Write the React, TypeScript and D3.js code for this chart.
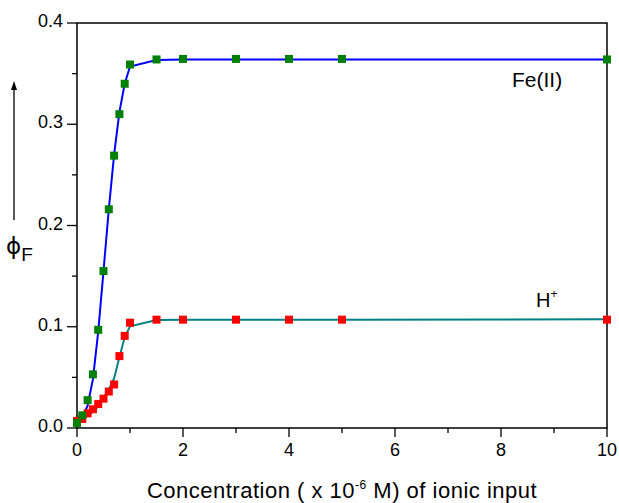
import { useEffect, useRef } from "react";
import * as d3 from "d3";

// concentrations (x 10^-6 M)
const conc = [0, 0.1, 0.2, 0.3, 0.4, 0.5, 0.6, 0.7, 0.8, 0.9, 1.0, 1.5, 2, 3, 4, 5, 10];
// measured phi_F points
const feData = [0.005, 0.0125, 0.0275, 0.053, 0.097, 0.155, 0.216, 0.269, 0.31, 0.34, 0.359, 0.364, 0.3645, 0.3645, 0.3645, 0.3645, 0.364];
const hData = [0.007, 0.009, 0.0145, 0.0185, 0.0237, 0.029, 0.036, 0.043, 0.071, 0.091, 0.104, 0.107, 0.107, 0.107, 0.107, 0.107, 0.107];
// fitted curves
const feFit = [0.004, 0.01, 0.022, 0.048, 0.095, 0.155, 0.216, 0.27, 0.312, 0.34, 0.357, 0.3635, 0.364, 0.364, 0.364, 0.364, 0.364];
const hFit = [0.007, 0.009, 0.012, 0.016, 0.021, 0.03, 0.038, 0.049, 0.07, 0.0896, 0.1005, 0.1066, 0.107, 0.107, 0.107, 0.107, 0.1074];

const yMajor = [0, 0.1, 0.2, 0.3, 0.4];
const yMinor = [0.05, 0.15, 0.25, 0.35];
const xMajor = [0, 2, 4, 6, 8, 10];
const xMinor = [1, 3, 5, 7, 9];

const FONT = "'Liberation Sans', Arial, sans-serif";

export default function App() {
  const svgRef = useRef<SVGSVGElement>(null);

  useEffect(() => {
    const width = 619;
    const height = 503;
    const m = { left: 77, right: 12, top: 23, bottom: 75 };

    const svg = d3.select(svgRef.current);
    svg.selectAll("*").remove();
    svg.attr("width", width).attr("height", height);

    const x = d3.scaleLinear().domain([0, 10]).range([m.left, width - m.right]);
    const y = d3.scaleLinear().domain([0, 0.4]).range([height - m.bottom, m.top]);

    const x0 = x(0), x1 = x(10), y0 = y(0), y1 = y(0.4);

    // frame
    svg.append("rect")
      .attr("x", x0).attr("y", y1)
      .attr("width", x1 - x0).attr("height", y0 - y1)
      .attr("fill", "none").attr("stroke", "#000").attr("stroke-width", 1.5);

    // y ticks
    svg.append("g").selectAll("line").data(yMajor).join("line")
      .attr("x1", x0 - 10).attr("x2", x0)
      .attr("y1", (d) => y(d)).attr("y2", (d) => y(d))
      .attr("stroke", "#000").attr("stroke-width", 1.3);
    svg.append("g").selectAll("line").data(yMinor).join("line")
      .attr("x1", x0 - 5).attr("x2", x0)
      .attr("y1", (d) => y(d)).attr("y2", (d) => y(d))
      .attr("stroke", "#000").attr("stroke-width", 1.3);
    svg.append("g").selectAll("text").data(yMajor).join("text")
      .attr("x", x0 - 14).attr("y", (d) => y(d) + 4)
      .attr("text-anchor", "end")
      .style("font-family", FONT).style("font-size", "18px")
      .text((d) => d.toFixed(1));

    // x ticks
    svg.append("g").selectAll("line").data(xMajor).join("line")
      .attr("x1", (d) => x(d)).attr("x2", (d) => x(d))
      .attr("y1", y0).attr("y2", y0 + 9)
      .attr("stroke", "#000").attr("stroke-width", 1.3);
    svg.append("g").selectAll("line").data(xMinor).join("line")
      .attr("x1", (d) => x(d)).attr("x2", (d) => x(d))
      .attr("y1", y0).attr("y2", y0 + 5)
      .attr("stroke", "#000").attr("stroke-width", 1.3);
    svg.append("g").selectAll("text").data(xMajor).join("text")
      .attr("x", (d) => x(d)).attr("y", y0 + 28)
      .attr("text-anchor", "middle")
      .style("font-family", FONT).style("font-size", "18px")
      .text((d) => String(d));

    // x label
    const xl = svg.append("text")
      .attr("x", 342).attr("y", 498)
      .attr("text-anchor", "middle")
      .style("font-family", FONT).style("font-size", "22px")
      .style("letter-spacing", "0.5px");
    xl.append("tspan").text("Concentration ( x 10");
    xl.append("tspan").attr("dy", -9).style("font-size", "12px").text("-6");
    xl.append("tspan").attr("dy", 9).text(" M) of ionic input");

    // y label: arrow + phi_F
    svg.append("line")
      .attr("x1", 14).attr("x2", 14).attr("y1", 220).attr("y2", 88)
      .attr("stroke", "#000").attr("stroke-width", 1.3);
    svg.append("path")
      .attr("d", "M14,81 L11,90 L17,90 Z").attr("fill", "#000");
    const yl = svg.append("text")
      .attr("x", 6).attr("y", 254)
      .style("font-family", "'DejaVu Sans', sans-serif").style("font-size", "23px");
    yl.append("tspan").text("\u03D5");
    yl.append("tspan").attr("dy", 7).style("font-family", FONT).style("font-size", "19px").text("F");

    // fitted lines
    const line = d3.line<number>()
      .x((_, i) => x(conc[i]))
      .y((d) => y(d));

    svg.append("path").attr("d", line(hFit))
      .attr("fill", "none").attr("stroke", "#008080").attr("stroke-width", 2);
    svg.append("path").attr("d", line(feFit))
      .attr("fill", "none").attr("stroke", "#0000ff").attr("stroke-width", 2);

    // markers
    const s = 8;
    svg.append("g").selectAll("rect").data(hData).join("rect")
      .attr("x", (_, i) => x(conc[i]) - s / 2)
      .attr("y", (d) => y(d) - s / 2)
      .attr("width", s).attr("height", s)
      .attr("fill", "#ff0000");
    svg.append("g").selectAll("rect").data(feData).join("rect")
      .attr("x", (_, i) => x(conc[i]) - s / 2)
      .attr("y", (d) => y(d) - s / 2)
      .attr("width", s).attr("height", s)
      .attr("fill", "#008000");

    // series labels
    svg.append("text")
      .attr("x", 512).attr("y", 87)
      .style("font-family", FONT).style("font-size", "21px")
      .text("Fe(II)");
    const hl = svg.append("text")
      .attr("x", 536).attr("y", 307)
      .style("font-family", FONT).style("font-size", "20px");
    hl.append("tspan").text("H");
    hl.append("tspan").attr("dy", -9).style("font-size", "12px").text("+");
  }, []);

  return (
    <svg
      ref={svgRef}
      style={{ position: "absolute", left: 0, top: 0, display: "block", background: "#fff" }}
    />
  );
}
